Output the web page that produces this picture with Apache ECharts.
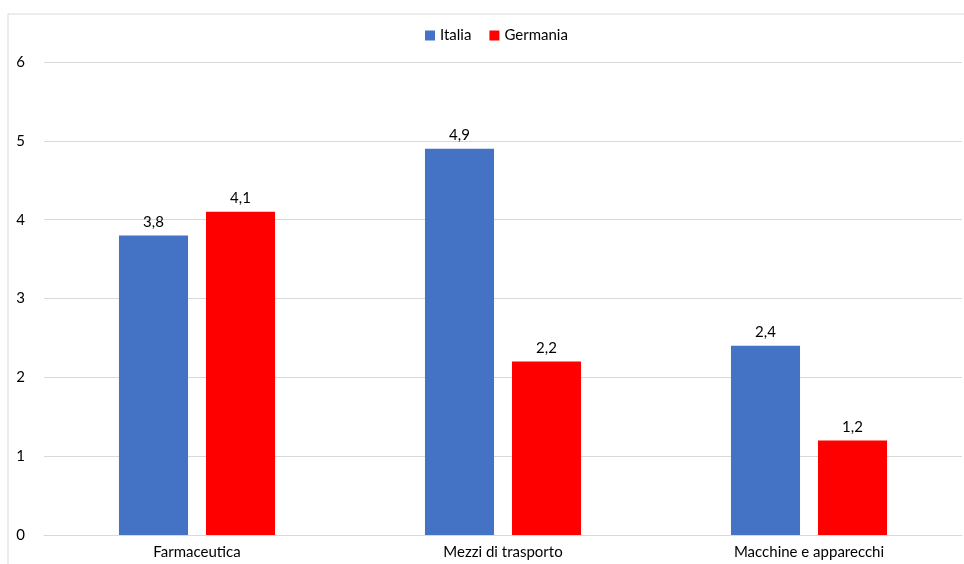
<!DOCTYPE html>
<html><head><meta charset="utf-8">
<script src="https://cdn.jsdelivr.net/npm/echarts@6/dist/echarts.min.js"></script>
<style>html,body{margin:0;padding:0;background:#fff}#c{width:964px;height:564px}</style>
</head><body><div id="c"></div>
<script>
const categories = ['Farmaceutica', 'Mezzi di trasporto', 'Macchine e apparecchi'];
const italia = [3.8, 4.9, 2.4];
const germania = [4.1, 2.2, 1.2];
const yTicks = [0, 1, 2, 3, 4, 5, 6];

const font = 'Lato, "Open Sans", sans-serif';
const chart = echarts.init(document.getElementById('c'));
const lbl = {
  show: true, position: 'top', color: '#000', fontSize: 15, fontFamily: font, distance: 6,
  formatter: p => String(p.value).replace('.', ',')
};
chart.setOption({
  animation: false,
  graphic: [{
    type: 'rect', shape: {x: 8, y: 14, width: 970, height: 600},
    style: {fill: 'none', stroke: '#d9d9d9', lineWidth: 1}, silent: true
  }],
  legend: {
    top: 23, left: 420, itemWidth: 10, itemHeight: 10, itemGap: 18,
    icon: 'rect', textStyle: {fontSize: 15, fontFamily: font, color: '#000'},
    data: ['Italia', 'Germania']
  },
  grid: {left: 44, right: 2, top: 62, bottom: 29, containLabel: false},
  xAxis: {
    type: 'category', data: categories,
    axisLine: {lineStyle: {color: '#d9d9d9'}}, axisTick: {show: false},
    axisLabel: {color: '#000', fontSize: 15, fontFamily: font, margin: 10}
  },
  yAxis: {
    type: 'value', min: yTicks[0], max: yTicks[yTicks.length - 1], interval: 1,
    axisLine: {show: false}, axisTick: {show: false},
    axisLabel: {color: '#000', fontSize: 15, fontFamily: font, margin: 19},
    splitLine: {lineStyle: {color: '#d9d9d9'}}
  },
  series: [
    {name: 'Italia', type: 'bar', data: italia, itemStyle: {color: '#4472C4'},
     barGap: '26%', barCategoryGap: '49%', label: lbl},
    {name: 'Germania', type: 'bar', data: germania, itemStyle: {color: '#FF0000'},
     barGap: '26%', barCategoryGap: '49%', label: lbl}
  ]
});
</script></body></html>
